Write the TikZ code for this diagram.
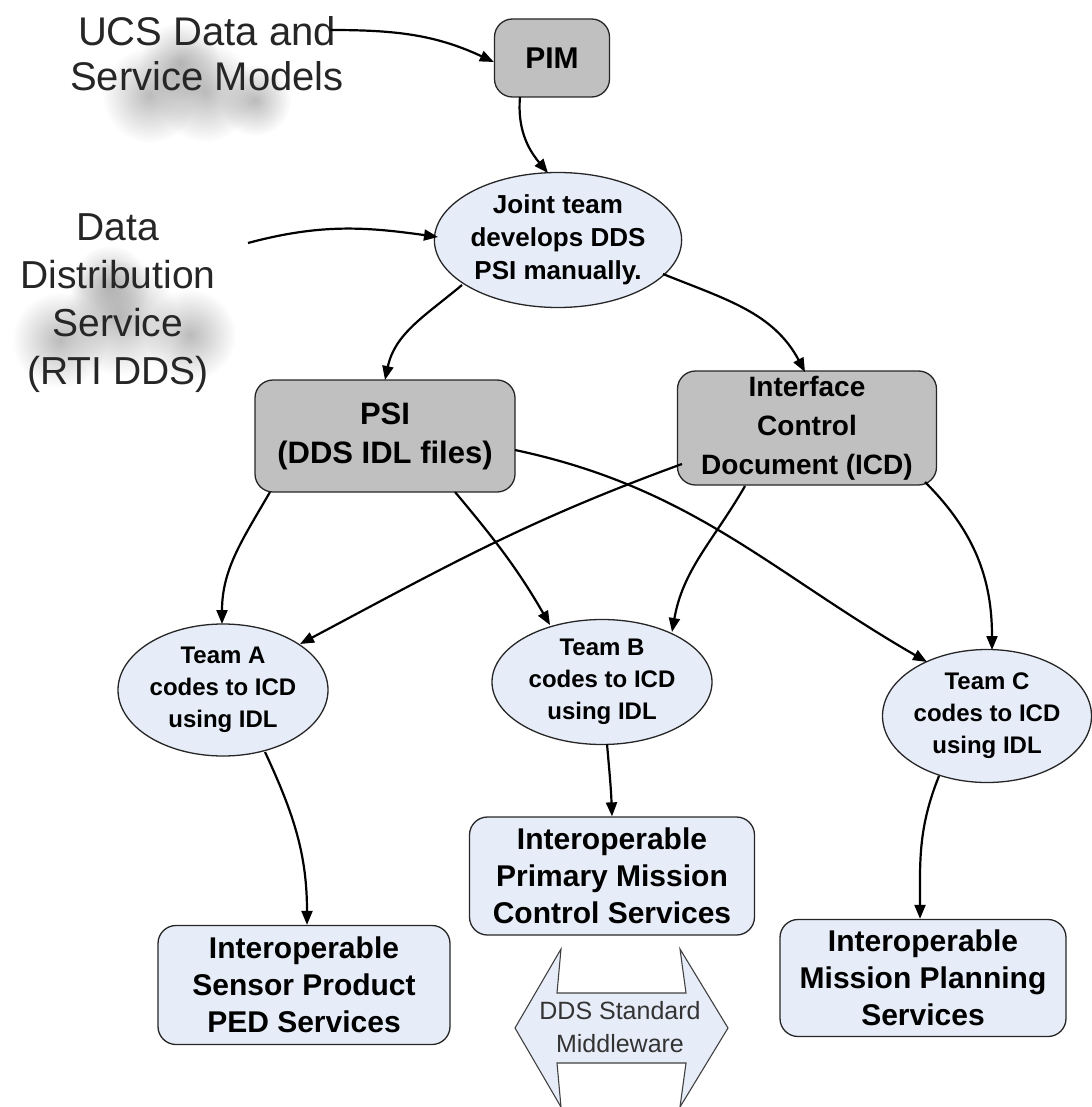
\documentclass[tikz,border=0pt]{standalone}
\usepackage{fontspec}
\setmainfont{Liberation Sans}
\usetikzlibrary{arrows.meta,shapes.geometric,fadings,calc}
\definecolor{boxgray}{RGB}{192,192,192}
\definecolor{lblue}{RGB}{231,237,248}
\definecolor{cloudgray}{RGB}{150,150,150}
\tikzfading[name=softblob, inner color=transparent!35, outer color=transparent!100]
\begin{document}
\begin{tikzpicture}[x=1pt,y=-1pt,
  graybox/.style={draw=black!85, line width=1.3pt, fill=boxgray, rounded corners=18pt,
    inner sep=0pt, align=center, font=\bfseries\fontsize{30}{37}\selectfont},
  bluebox/.style={draw=black!85, line width=1.3pt, fill=lblue, rounded corners=18pt,
    inner sep=0pt, align=center, font=\bfseries\fontsize{30}{37}\selectfont},
  teamell/.style={ellipse, draw=black!85, line width=1.3pt, fill=lblue, inner sep=0pt,
    align=center, font=\bfseries\fontsize{24}{32}\selectfont},
  conn/.style={line width=2.2pt, -{Triangle[length=14pt,width=11pt]}},
  cloudlbl/.style={align=center, text=black!85, font=\fontsize{40}{45}\selectfont},
  blob/.style={fill=cloudgray, path fading=softblob}
]
\useasboundingbox (0,0) rectangle (1091,1107);

% clouds
\fill[blob] (150,95) circle (48pt);
\fill[blob] (205,92) circle (50pt);
\fill[blob] (255,100) circle (36pt);
\fill[blob] (180,62) circle (40pt);
\fill[blob] (60,340) circle (48pt);
\fill[blob] (120,318) circle (58pt);
\fill[blob] (190,335) circle (46pt);
\fill[blob] (110,285) circle (40pt);

\node[cloudlbl] (ucs) at (207,54) {UCS Data and\\Service Models};
\node[cloudlbl, font=\fontsize{39}{48}\selectfont] (dds) at (118,303) {Data\\Distribution\\Service\\(RTI DDS)};

% nodes
\node[graybox, minimum width=115pt, minimum height=78pt] (pim) at (552,58) {PIM};
\node[teamell, minimum width=240pt, minimum height=135pt, font=\bfseries\fontsize{26}{33}\selectfont] (joint) at (558,240) {Joint team\\develops DDS\\PSI manually.};
\node[graybox, minimum width=260pt, minimum height=112pt, font=\bfseries\fontsize{31}{39}\selectfont] (psi) at (385,436) {PSI\\(DDS IDL files)};
\node[graybox, minimum width=259pt, minimum height=114pt, font=\bfseries\fontsize{28}{39}\selectfont] (icd) at (807,428) {Interface\\Control\\Document (ICD)};
\node[teamell, minimum width=210pt, minimum height=132pt] (ta) at (223,690) {Team A\\codes to ICD\\using IDL};
\node[teamell, minimum width=220pt, minimum height=125pt] (tb) at (602,682) {Team B\\codes to ICD\\using IDL};
\node[teamell, minimum width=209pt, minimum height=133pt] (tc) at (987,716) {Team C\\codes to ICD\\using IDL};
\node[bluebox, minimum width=292pt, minimum height=119pt] (sensor) at (304,985) {Interoperable\\Sensor Product\\PED Services};
\node[bluebox, minimum width=285pt, minimum height=118pt] (pmc) at (612,876) {Interoperable\\Primary Mission\\Control Services};
\node[bluebox, minimum width=286pt, minimum height=117pt] (mps) at (923,978) {Interoperable\\Mission Planning\\Services};

% double arrow
\draw[fill=lblue, draw=black!75, line width=1.1pt]
  (515,1028) -- (561,949) -- (557,993) -- (686,993) -- (680,949) -- (728,1028)
  -- (680,1107) -- (686,1063) -- (557,1063) -- (561,1107) -- cycle;
\node[align=center, text=black!80, font=\fontsize{25}{33}\selectfont] (mw) at (620,1027) {DDS Standard\\Middleware};

% connectors
\coordinate (ucsend) at (330,30);
\coordinate (ddsend) at (248,243);
\draw[conn] (ucsend) to[out=0,in=155] ($(pim.west)+(0,4)$);
\draw[conn] ($(pim.center)+(-32,39)$) to[out=-95,in=130] ($(joint.center)+(-10,-67)$);
\draw[conn] (ddsend) to[out=15,in=172] ($(joint.center)+(-120,-3)$);
\draw[conn] ($(joint.center)+(-96,45)$) to[out=-140,in=78] ($(psi.center)+(0,-56)$);
\draw[conn] ($(joint.center)+(105,34)$) to[out=-22,in=118] ($(icd.center)+(-2,-56)$);
\draw[conn] ($(psi.center)+(-115,56)$) to[out=-120,in=90] ($(ta.center)+(-1,-66)$);
\draw[conn] ($(psi.center)+(70,56)$) to[out=-50,in=120] ($(tb.center)+(-52,-57)$);
\draw[conn] ($(psi.center)+(130,14)$) to[out=-12,in=150] ($(tc.center)+(-60,-54)$);
\draw[conn] ($(icd.center)+(-125,36)$) to[out=200,in=28] ($(ta.center)+(77,-46)$);
\draw[conn] ($(icd.center)+(-62,58)$) to[out=-120,in=80] ($(tb.center)+(70,-50)$);
\draw[conn] ($(icd.center)+(118,54)$) to[out=-45,in=90] ($(tc.center)+(5,-66)$);
\draw[conn] ($(ta.center)+(42,62)$) to[out=-65,in=90] ($(sensor.north)+(3,0)$);
\draw[conn] ($(tb.center)+(5,62)$) to[out=-85,in=92] (pmc.north);
\draw[conn] ($(tc.center)+(-48,60)$) to[out=-112,in=90] ($(mps.north)+(-3,0)$);
\end{tikzpicture}
\end{document}
